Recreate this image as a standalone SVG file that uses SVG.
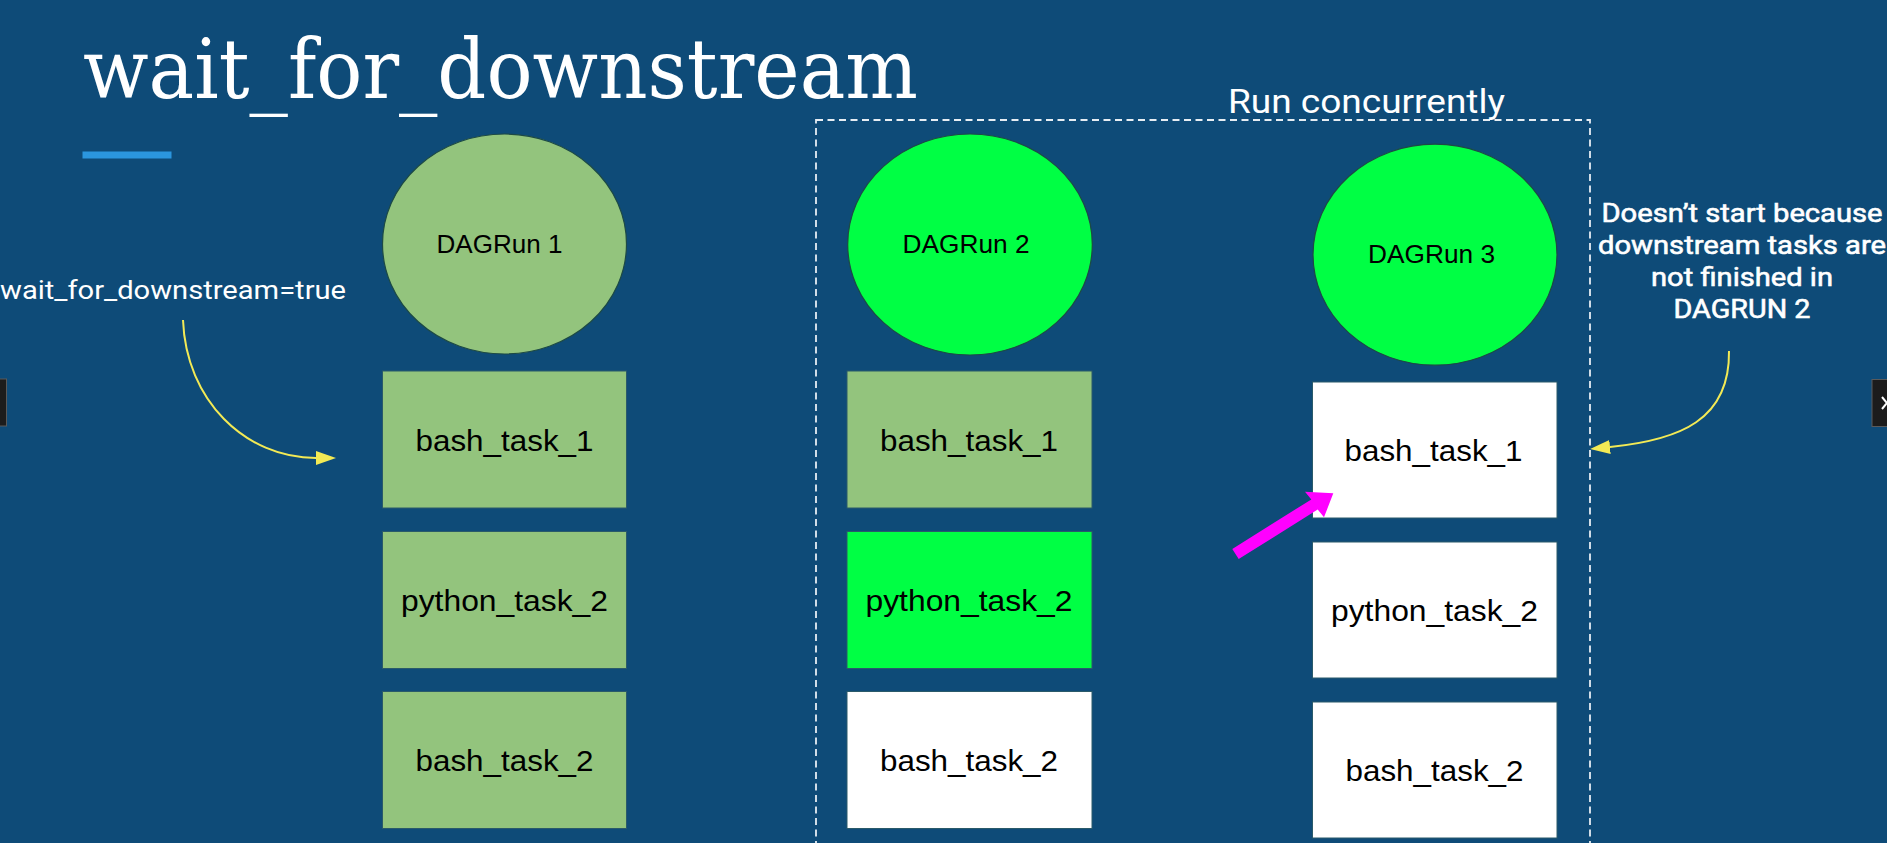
<svg xmlns="http://www.w3.org/2000/svg" width="1887" height="843" viewBox="0 0 1887 843">
<style>
.bg{fill:#0e4b78}
.title{font-family:"DejaVu Serif","Liberation Serif",serif;font-size:82px;fill:#ffffff}
.note{font-family:Roboto,"Liberation Sans",sans-serif;fill:#ffffff}
.lbl{font-family:"Liberation Sans",Arial,sans-serif;fill:#000000;text-anchor:middle}
.run{font-size:25px}
.task{font-size:29px}
.done{fill:#93c47d}
.live{fill:#00ff44}
.todo{fill:#ffffff}
.ell{stroke:#1d4a45;stroke-width:1.2}
.box{stroke:#2a5a6a;stroke-width:1}
.yl{fill:none;stroke:#f3ea55;stroke-width:2}
</style>
<defs>
<marker id="ya" viewBox="0 0 20 14" refX="0" refY="7" markerWidth="20" markerHeight="14" markerUnits="userSpaceOnUse" orient="auto">
<path d="M0,0 L20,7 L0,14 z" fill="#f3ea55"/>
</marker>
</defs>
<rect class="bg" x="0" y="0" width="1887" height="843"/>
<g id="title">
<text class="title" x="83" y="98" textLength="835" lengthAdjust="spacingAndGlyphs">wait_for_downstream</text>
<rect x="82.5" y="151.5" width="89" height="7" fill="#2b96de"/>
</g>
<g id="player-left"><rect x="-2" y="379" width="8.5" height="47" fill="#1c1c1c" stroke="#5a5a5a" stroke-width="1"/></g>
<g id="player-right"><rect x="1872" y="379.5" width="18" height="47" fill="#1c1c1c" stroke="#5a5a5a" stroke-width="1"/><path d="M1882,397 L1887,403 M1882,409 L1887,403" stroke="#ffffff" stroke-width="2" fill="none"/></g>
<g id="concurrent-group">
<rect x="816" y="120" width="774" height="740" fill="none" stroke="#e6edf3" stroke-width="1.8" stroke-dasharray="7,4.5"/>
<text class="note" x="1228" y="113" font-size="34" textLength="277" lengthAdjust="spacingAndGlyphs">Run concurrently</text>
</g>
<g id="note-left">
<text class="note" x="0" y="299" font-size="25" textLength="346" lengthAdjust="spacingAndGlyphs">wait_for_downstream=true</text>
</g>
<g id="note-right" class="note" font-size="26" text-anchor="middle" stroke="#ffffff" stroke-width="0.6">
<text x="1742" y="221.5" textLength="281" lengthAdjust="spacingAndGlyphs">Doesn’t start because</text>
<text x="1742" y="253.5" textLength="288" lengthAdjust="spacingAndGlyphs">downstream tasks are</text>
<text x="1742" y="285.5" textLength="182" lengthAdjust="spacingAndGlyphs">not finished in</text>
<text x="1742" y="318" textLength="137" lengthAdjust="spacingAndGlyphs">DAGRUN 2</text>
</g>
<g id="dagrun1">
<ellipse class="done ell" cx="504.5" cy="244" rx="122" ry="110"/>
<text class="lbl run" x="499.5" y="252.5" textLength="126" lengthAdjust="spacingAndGlyphs">DAGRun 1</text>
</g>
<g id="dagrun1-bash_task_1">
<rect class="done box" x="382.5" y="371" width="244" height="137"/>
<text class="lbl task" x="504.5" y="450.5" textLength="178" lengthAdjust="spacingAndGlyphs">bash_task_1</text>
</g>
<g id="dagrun1-python_task_2">
<rect class="done box" x="382.5" y="531.5" width="244" height="137"/>
<text class="lbl task" x="504.5" y="611" textLength="207" lengthAdjust="spacingAndGlyphs">python_task_2</text>
</g>
<g id="dagrun1-bash_task_2">
<rect class="done box" x="382.5" y="691.5" width="244" height="137"/>
<text class="lbl task" x="504.5" y="771" textLength="178" lengthAdjust="spacingAndGlyphs">bash_task_2</text>
</g>
<g id="dagrun2">
<ellipse class="live ell" cx="970" cy="244.5" rx="122.3" ry="110.5"/>
<text class="lbl run" x="966" y="252.7" textLength="127" lengthAdjust="spacingAndGlyphs">DAGRun 2</text>
</g>
<g id="dagrun2-bash_task_1">
<rect class="done box" x="847" y="371" width="245" height="137"/>
<text class="lbl task" x="969" y="450.5" textLength="178" lengthAdjust="spacingAndGlyphs">bash_task_1</text>
</g>
<g id="dagrun2-python_task_2">
<rect class="live box" x="847" y="531.5" width="245" height="137"/>
<text class="lbl task" x="969" y="611" textLength="207" lengthAdjust="spacingAndGlyphs">python_task_2</text>
</g>
<g id="dagrun2-bash_task_2">
<rect class="todo box" x="847" y="691.5" width="245" height="137"/>
<text class="lbl task" x="969" y="771" textLength="178" lengthAdjust="spacingAndGlyphs">bash_task_2</text>
</g>
<g id="dagrun3">
<ellipse class="live ell" cx="1435" cy="254.7" rx="122" ry="110.5"/>
<text class="lbl run" x="1431.5" y="263.3" textLength="127" lengthAdjust="spacingAndGlyphs">DAGRun 3</text>
</g>
<g id="dagrun3-bash_task_1">
<rect class="todo box" x="1312.5" y="382" width="244.5" height="136"/>
<text class="lbl task" x="1433.5" y="460.7" textLength="178" lengthAdjust="spacingAndGlyphs">bash_task_1</text>
</g>
<g id="dagrun3-python_task_2">
<rect class="todo box" x="1312.5" y="542" width="244.5" height="136"/>
<text class="lbl task" x="1434.5" y="620.5" textLength="207" lengthAdjust="spacingAndGlyphs">python_task_2</text>
</g>
<g id="dagrun3-bash_task_2">
<rect class="todo box" x="1312.5" y="702" width="244.5" height="136"/>
<text class="lbl task" x="1434.5" y="780.5" textLength="178" lengthAdjust="spacingAndGlyphs">bash_task_2</text>
</g>
<g id="connectors">
<path class="yl" d="M183,320 C186,400 245,458 316,458" marker-end="url(#ya)"/>
<path class="yl" d="M1729,351 C1730,420 1680,440 1610,447" marker-end="url(#ya)"/>
<polygon points="1232.3,548.9 1311.3,499.4 1305,491.7 1333.3,493.3 1324,517.3 1317.7,509.6 1238.7,559.1" fill="#ff00ff"/>
</g>
</svg>
